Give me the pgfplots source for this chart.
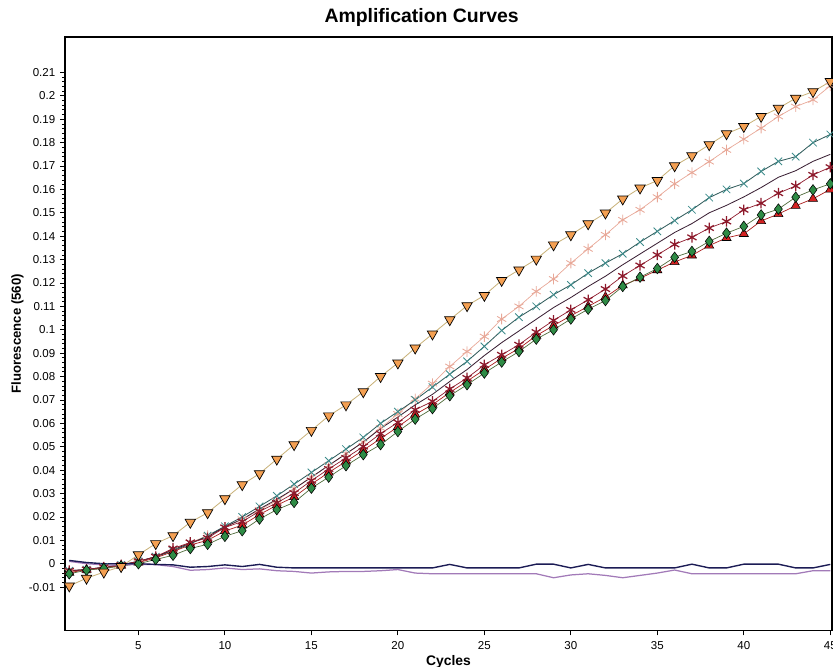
\documentclass[border=0pt]{standalone}
\usepackage{fontspec}
\setmainfont{Liberation Sans}
\usepackage{pgfplots}
\usepackage{pgfplotstable}
\pgfplotsset{compat=1.18}
\usetikzlibrary{plotmarks}

\definecolor{orangeM}{HTML}{F4A052}
\definecolor{orangeL}{HTML}{C9B27A}
\definecolor{pinkM}{HTML}{E8A898}
\definecolor{tealM}{HTML}{3E8C8C}
\definecolor{tealL}{HTML}{2F5A5A}
\definecolor{darkL}{HTML}{3A2034}
\definecolor{dredM}{HTML}{8E1A2C}
\definecolor{redM}{HTML}{D42222}
\definecolor{greenM}{HTML}{2E8B45}
\definecolor{greenL}{HTML}{4F6B3A}
\definecolor{navyL}{HTML}{1C1C55}
\definecolor{purpL}{HTML}{A27AB8}

% cycle, orange, pink, teal, plain, dark red, red, green, navy, purple
\pgfplotstableread{
c  O       P       T       D       DR      R       G       N       U
1  -0.0095 -0.0035 -0.0030 -0.0030 -0.0030 -0.0038 -0.0043 0.0014  0.0010
2  -0.0062 -0.0025 -0.0025 -0.0025 -0.0025 -0.0026 -0.0028 0.0005  0.0000
3  -0.0036 -0.0020 -0.0015 -0.0015 -0.0015 -0.0018 -0.0020 0.0000  -0.0005
4  -0.0012 -0.0010 -0.0005 -0.0005 -0.0005 -0.0008 -0.0010 0.0000  -0.0005
5  0.0038  0.0005  0.0010  0.0010  0.0010  0.0005  0.0000  0.0000  -0.0003
6  0.0086  0.0030  0.0030  0.0030  0.0030  0.0025  0.0018  -0.0003 -0.0004
7  0.0120  0.0060  0.0055  0.0060  0.0065  0.0052  0.0036  -0.0005 -0.0012
8  0.0177  0.0090  0.0085  0.0088  0.0091  0.0080  0.0065  -0.0015 -0.0028
9  0.0218  0.0120  0.0120  0.0115  0.0110  0.0100  0.0083  -0.0012 -0.0025
10 0.0278  0.0155  0.0160  0.0158  0.0155  0.0140  0.0117  -0.0005 -0.0018
11 0.0338  0.0190  0.0200  0.0190  0.0180  0.0165  0.0141  -0.0012 -0.0025
12 0.0385  0.0230  0.0245  0.0234  0.0224  0.0210  0.0191  -0.0003 -0.0022
13 0.0447  0.0270  0.0290  0.0275  0.0260  0.0250  0.0231  -0.0015 -0.0030
14 0.0509  0.0320  0.0340  0.0320  0.0302  0.0285  0.0262  -0.0018 -0.0033
15 0.0570  0.0370  0.0390  0.0370  0.0355  0.0340  0.0323  -0.0018 -0.0040
16 0.0632  0.0420  0.0440  0.0420  0.0405  0.0390  0.0370  -0.0018 -0.0035
17 0.0679  0.0470  0.0490  0.0470  0.0452  0.0437  0.0419  -0.0018 -0.0033
18 0.0735  0.0520  0.0540  0.0520  0.0501  0.0485  0.0466  -0.0018 -0.0033
19 0.0800  0.0580  0.0600  0.0578  0.0556  0.0535  0.0509  -0.0018 -0.0030
20 0.0858  0.0640  0.0650  0.0627  0.0604  0.0585  0.0565  -0.0018 -0.0025
21 0.0922  0.0705  0.0700  0.0679  0.0658  0.0638  0.0618  -0.0018 -0.0040
22 0.0982  0.0770  0.0755  0.0724  0.0694  0.0680  0.0663  -0.0018 -0.0043
23 0.1043  0.0843  0.0810  0.0779  0.0747  0.0732  0.0718  -0.0003 -0.0043
24 0.1103  0.0907  0.0865  0.0830  0.0794  0.0780  0.0765  -0.0018 -0.0043
25 0.1147  0.0971  0.0929  0.0890  0.0850  0.0830  0.0815  -0.0018 -0.0043
26 0.1211  0.1046  0.0997  0.0945  0.0893  0.0878  0.0862  -0.0018 -0.0043
27 0.1256  0.1100  0.1054  0.0995  0.0936  0.0920  0.0907  -0.0018 -0.0043
28 0.1302  0.1164  0.1100  0.1045  0.0990  0.0975  0.0960  -0.0002 -0.0043
29 0.1363  0.1217  0.1150  0.1095  0.1040  0.1018  0.1000  -0.0002 -0.0060
30 0.1406  0.1285  0.1192  0.1138  0.1085  0.1060  0.1046  -0.0018 -0.0048
31 0.1453  0.1346  0.1242  0.1185  0.1128  0.1100  0.1088  -0.0003 -0.0043
32 0.1499  0.1406  0.1285  0.1229  0.1174  0.1140  0.1125  -0.0018 -0.0050
33 0.1559  0.1470  0.1325  0.1278  0.1230  0.1190  0.1185  -0.0018 -0.0060
34 0.1606  0.1513  0.1375  0.1324  0.1275  0.1220  0.1225  -0.0018 -0.0050
35 0.1638  0.1567  0.1421  0.1370  0.1320  0.1255  0.1262  -0.0018 -0.0040
36 0.1701  0.1624  0.1467  0.1416  0.1365  0.1290  0.1310  -0.0018 -0.0027
37 0.1744  0.1672  0.1513  0.1454  0.1395  0.1318  0.1335  -0.0002 -0.0043
38 0.1791  0.1719  0.1565  0.1500  0.1435  0.1360  0.1378  -0.0018 -0.0043
39 0.1838  0.1769  0.1600  0.1532  0.1463  0.1393  0.1413  -0.0018 -0.0043
40 0.1869  0.1815  0.1625  0.1568  0.1513  0.1410  0.1442  -0.0002 -0.0043
41 0.1912  0.1862  0.1677  0.1608  0.1541  0.1465  0.1491  -0.0002 -0.0043
42 0.1947  0.1912  0.1720  0.1652  0.1584  0.1495  0.1516  -0.0002 -0.0043
43 0.1990  0.1954  0.1740  0.1680  0.1615  0.1530  0.1567  -0.0018 -0.0043
44 0.2018  0.1983  0.1800  0.1720  0.1662  0.1560  0.1598  -0.0018 -0.0030
45 0.2061  0.2043  0.1835  0.1750  0.1695  0.1600  0.1624  -0.0003 -0.0030
}\amp

\begin{document}
\begin{tikzpicture}
\begin{axis}[
  name=ax,
  scale only axis,
  width=553pt, height=428pt,
  xmin=0.75, xmax=45.1,
  ymin=-0.0286, ymax=0.2252,
  xtick={5,10,15,20,25,30,35,40,45},
  ytick={-0.01,0,0.01,0.02,0.03,0.04,0.05,0.06,0.07,0.08,0.09,0.1,0.11,0.12,0.13,0.14,0.15,0.16,0.17,0.18,0.19,0.2,0.21},
  minor y tick num=4,
  tick align=outside,
  xtick pos=bottom, ytick pos=left,
  major tick length=3.5pt, minor tick length=1.8pt,
  every tick/.style={black, line width=0.6pt},
  axis line style={line width=1pt},
  /pgf/number format/assume math mode=true,
  yticklabel style={/pgf/number format/fixed, /pgf/number format/precision=2},
  ticklabel style={font=\fontsize{8.3}{9}\selectfont},
  xticklabel style={yshift=-1pt},
  scaled y ticks=false,
  every axis title shift=0pt,
  title={Amplification Curves},
  title style={at={(axis description cs:0.465,1.032)}, anchor=center,
               font=\bfseries\fontsize{14}{16}\selectfont},
  xlabel={Cycles},
  xlabel style={at={(axis description cs:0.5,-0.052)}, anchor=center,
                font=\bfseries\fontsize{10}{12}\selectfont},
  ylabel={Fluorescence (560)},
  ylabel style={at={(axis description cs:-0.062,0.5)}, anchor=center,
                font=\bfseries\fontsize{9.5}{11}\selectfont},
  clip=true,
]
% amplification curves
\addplot[pinkM, line width=0.5pt, mark=asterisk, mark size=3.8pt,
  mark options={pinkM, line width=0.6pt}] table[x=c, y=P] {\amp};
\addplot[tealL, line width=0.6pt, mark=x, mark size=3.8pt,
  mark options={tealM, line width=0.6pt}] table[x=c, y=T] {\amp};
\addplot[darkL, line width=0.6pt, no marks] table[x=c, y=D] {\amp};
\addplot[redM!80!black, line width=0.5pt, mark=triangle*, mark size=3.8pt,
  mark options={fill=redM, draw=black, line width=0.4pt}] table[x=c, y=R] {\amp};
\addplot[dredM, line width=0.5pt, mark=asterisk, mark size=3.8pt,
  mark options={dredM, line width=0.9pt}] table[x=c, y=DR] {\amp};
\addplot[greenL, line width=0.5pt, mark=diamond*, mark size=3.8pt,
  mark options={fill=greenM, draw=black, line width=0.4pt}] table[x=c, y=G] {\amp};
\addplot[orangeL, line width=0.6pt, mark=triangle*, mark size=4.3pt,
  mark options={fill=orangeM, draw=black, line width=0.5pt, rotate=180}] table[x=c, y=O] {\amp};
% negative controls
\addplot[purpL, line width=0.9pt, no marks] table[x=c, y=U] {\amp};
\addplot[navyL, line width=1pt, no marks] table[x=c, y=N] {\amp};
\end{axis}
\pgfresetboundingbox
\path[use as bounding box] ([xshift=-46.8pt,yshift=-25.9pt]ax.south west)
  rectangle ([xshift=0.7pt,yshift=26.6pt]ax.north east);
\end{tikzpicture}
\end{document}
